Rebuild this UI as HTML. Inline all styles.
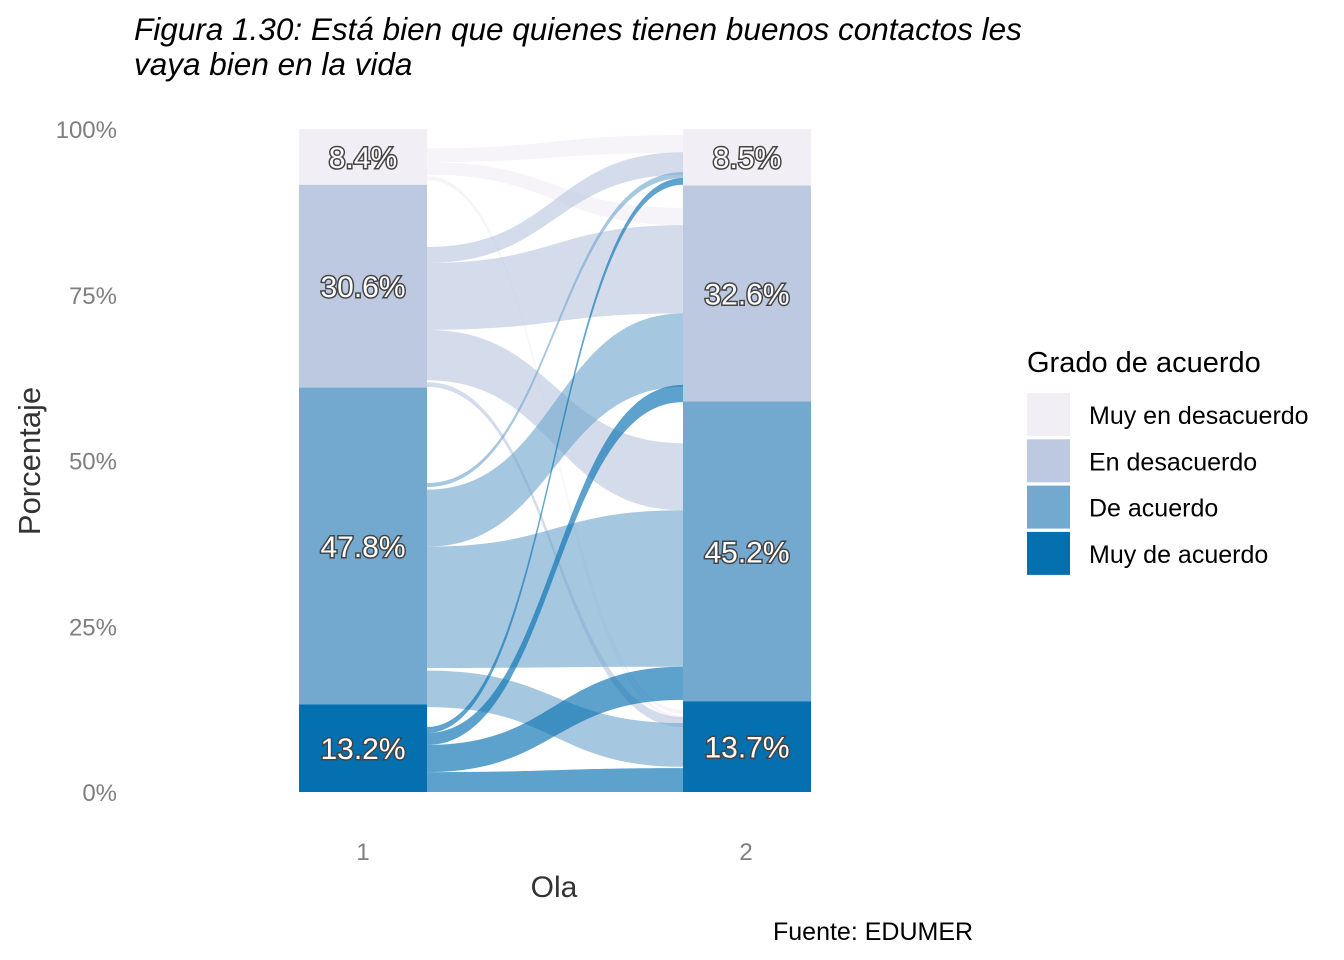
<!DOCTYPE html>
<html><head><meta charset="utf-8"><style>
html,body{margin:0;padding:0;background:#fff;}
svg{display:block;font-family:"Liberation Sans",Arial,sans-serif;}
</style></head><body>
<svg id="chart" width="1344" height="960" viewBox="0 0 1344 960">
<text x="134" y="40" font-size="31.5" font-style="italic" fill="#000">Figura 1.30: Está bien que quienes tienen buenos contactos les</text>
<text x="134" y="75" font-size="31.5" font-style="italic" fill="#000"> vaya bien en la vida</text>
<g id="flows"></g>
<g id="strata"></g>
<g id="yaxis"></g>
<text x="40" y="461" font-size="31" fill="#333" text-anchor="middle" transform="rotate(-90 40 461)">Porcentaje</text>
<text x="363" y="860" font-size="24" fill="#7f7f7f" text-anchor="middle">1</text>
<text x="746" y="860" font-size="24" fill="#7f7f7f" text-anchor="middle">2</text>
<text x="554" y="897" font-size="30" fill="#333" text-anchor="middle">Ola</text>
<g id="legend">
<text x="1027" y="372" font-size="29" fill="#000">Grado de acuerdo</text>
</g>
<text x="773" y="940" font-size="25" fill="#000">Fuente: EDUMER</text>
</svg>
<script>
const categories = ["Muy de acuerdo","De acuerdo","En desacuerdo","Muy en desacuerdo"];
const wave1 = [13.2, 47.8, 30.6, 8.4];
const wave2 = [13.7, 45.2, 32.6, 8.5];
const legendOrder = ["Muy en desacuerdo","En desacuerdo","De acuerdo","Muy de acuerdo"];
const yTicks = [0, 25, 50, 75, 100];
const yTickLabels = ["0%","25%","50%","75%","100%"];
// flows: source category index, left top/bottom %, right top/bottom %
const flowCat = [3,3,3,3,2,2,2,2,1,1,1,1,0,0,0,0,0];
const flowLTop = [97.1,95.0,92.9,92.6,82.2,79.8,69.7,61.8,46.6,45.6,37.0,18.3,9.8,9.4,8.9,7.1,3.0];
const flowLBot = [95.0,93.1,92.6,92.3,79.8,69.7,62.1,61.1,46.0,37.0,18.7,12.8,9.4,8.9,7.1,3.0,0.0];
const flowRTop = [99.1,88.1,12.4,11.5,96.5,85.5,52.6,11.3,93.5,72.2,42.5,10.4,92.6,92.0,61.4,18.9,3.6];
const flowRBot = [96.4,85.5,11.8,10.9,93.1,72.2,42.5,9.8,92.6,61.1,18.9,3.8,92.0,91.6,58.8,13.9,0.0];

const ns="http://www.w3.org/2000/svg";
const stratCol=["#0570b0","#74a9cf","#bdc9e1","#f1eef6"];
const y=p=>792-p*6.63;
const xL0=299,xL1=427,xR0=683,xR1=811;
function mk(t,parent){const e=document.createElementNS(ns,t);parent.appendChild(e);return e;}
const fg=document.getElementById('flows');
const xm=(xL1+xR0)/2;
for(let i=0;i<flowCat.length;i++){
  const p=mk('path',fg);
  const a=y(flowLTop[i]),b=y(flowLBot[i]),c=y(flowRTop[i]),d=y(flowRBot[i]);
  p.setAttribute('d',`M${xL1},${a} C${xm},${a} ${xm},${c} ${xR0},${c} L${xR0},${d} C${xm},${d} ${xm},${b} ${xL1},${b} Z`);
  p.setAttribute('fill',stratCol[flowCat[i]]);
  p.setAttribute('fill-opacity','0.65');
  
  
}
const sg=document.getElementById('strata');
[[wave1,xL0,1],[wave2,xR0,2]].forEach(([vals,x0,w])=>{
  let cum=0;
  vals.forEach((v,k)=>{
    const r=mk('rect',sg);
    r.setAttribute('x',x0);r.setAttribute('width',128);
    r.setAttribute('y',y(cum+v));r.setAttribute('height',v*6.63);
    r.setAttribute('fill',stratCol[k]);
    
    
    const t=mk('text',sg);
    t.setAttribute('x',x0+64);t.setAttribute('y',y(cum+v/2)+11);
    t.setAttribute('text-anchor','middle');t.setAttribute('font-size','30');
    t.setAttribute('fill','#fff');t.setAttribute('stroke','#444');t.setAttribute('stroke-width','3');
    t.setAttribute('paint-order','stroke');
    t.textContent=v.toFixed(1)+'%';
    
    
    cum+=v;
  });
});
const yg=document.getElementById('yaxis');
yTicks.forEach((v,i)=>{
  const t=mk('text',yg);
  t.setAttribute('x',117);t.setAttribute('y',y(v)+9);
  t.setAttribute('text-anchor','end');t.setAttribute('font-size','24');t.setAttribute('fill','#7f7f7f');
  t.textContent=yTickLabels[i];
  
  
});
const lg=document.getElementById('legend');
legendOrder.forEach((name,i)=>{
  const k=categories.indexOf(name);
  const r=mk('rect',lg);
  r.setAttribute('x',1027);r.setAttribute('y',393+i*46.3);r.setAttribute('width',43);r.setAttribute('height',43);
  r.setAttribute('fill',stratCol[k]);
  
  
  const t=mk('text',lg);
  t.setAttribute('x',1089);t.setAttribute('y',393+i*46.3+31);t.setAttribute('font-size','25');t.setAttribute('fill','#000');
  t.textContent=name;
  
  
});
</script>
</body></html>
